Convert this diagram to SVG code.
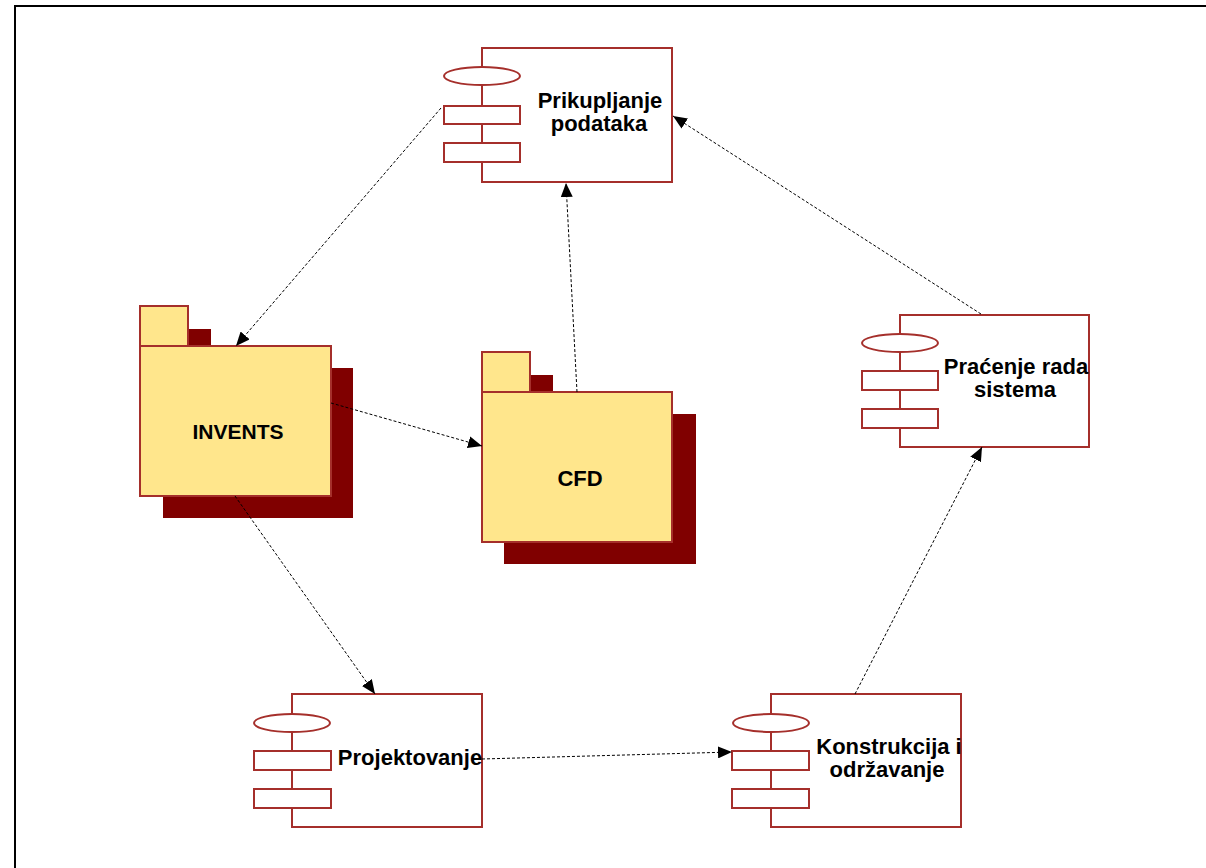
<svg xmlns="http://www.w3.org/2000/svg" width="1206" height="868" viewBox="0 0 1206 868">
<defs>
<style>
.frame{fill:none;stroke:#000;stroke-width:2}
.comp{fill:#fff;stroke:#A52F2B;stroke-width:2}
.pkg{fill:#FFE68C;stroke:#A52F2B;stroke-width:2}
.shadow{fill:#800000;stroke:none}
.lbl{font-family:"Liberation Sans",Arial,sans-serif;font-weight:bold;font-size:22px;fill:#000;text-anchor:middle}
.pl{font-size:21px}
.conn{fill:none;stroke:#000;stroke-width:1;stroke-dasharray:3,2}
</style>
<marker id="arr" markerUnits="userSpaceOnUse" markerWidth="14" markerHeight="12" viewBox="0 0 14 12" refX="14" refY="6" orient="auto">
<path d="M0,0 L14,6 L0,12 Z" fill="#000"/>
</marker>
</defs>
<rect width="1206" height="868" fill="#fff"/>
<path class="frame" d="M15,868 V6 H1206"/>

<g id="invents">
<rect class="shadow" x="163" y="368" width="190" height="150"/>
<rect class="shadow" x="163" y="329" width="48" height="40"/>
<rect class="pkg" x="140" y="306" width="48" height="40"/>
<rect class="pkg" x="140" y="346" width="191" height="150"/>
<text class="lbl pl" x="238" y="439">INVENTS</text>
</g>

<g id="cfd">
<rect class="shadow" x="504" y="414" width="192" height="150"/>
<rect class="shadow" x="504" y="375" width="49" height="40"/>
<rect class="pkg" x="482" y="352" width="48" height="40"/>
<rect class="pkg" x="482" y="392" width="190" height="150"/>
<text class="lbl" x="580" y="486">CFD</text>
</g>

<g id="prikupljanje">
<rect class="comp" x="482" y="48" width="190" height="134"/>
<ellipse class="comp" cx="482" cy="76" rx="38" ry="9"/>
<rect class="comp" x="444" y="106" width="76" height="18"/>
<rect class="comp" x="444" y="143" width="76" height="19"/>
<text class="lbl" x="600" y="108">Prikupljanje</text>
<text class="lbl" x="599" y="131">podataka</text>
</g>

<g id="pracenje">
<rect class="comp" x="900" y="315" width="189" height="132"/>
<ellipse class="comp" cx="900" cy="343" rx="38" ry="9"/>
<rect class="comp" x="862" y="371" width="76" height="19"/>
<rect class="comp" x="862" y="409" width="76" height="19"/>
<text class="lbl" x="1016" y="374">Praćenje rada</text>
<text class="lbl" x="1015" y="397">sistema</text>
</g>

<g id="projektovanje">
<rect class="comp" x="292" y="694" width="190" height="133"/>
<ellipse class="comp" cx="292" cy="723" rx="38" ry="9"/>
<rect class="comp" x="254" y="751" width="77" height="19"/>
<rect class="comp" x="254" y="789" width="77" height="19"/>
<text class="lbl" x="410" y="765">Projektovanje</text>
</g>

<g id="konstrukcija">
<rect class="comp" x="771" y="694" width="190" height="133"/>
<ellipse class="comp" cx="771" cy="723" rx="38" ry="9"/>
<rect class="comp" x="732" y="751" width="77" height="19"/>
<rect class="comp" x="732" y="789" width="77" height="19"/>
<text class="lbl" x="889" y="754">Konstrukcija i</text>
<text class="lbl" x="887" y="777">održavanje</text>
</g>

<g id="connectors">
<line class="conn" x1="441" y1="108" x2="236" y2="346" marker-end="url(#arr)"/>
<line class="conn" x1="577" y1="392" x2="566" y2="183" marker-end="url(#arr)"/>
<line class="conn" x1="981" y1="314" x2="673" y2="116" marker-end="url(#arr)"/>
<line class="conn" x1="331" y1="403" x2="482" y2="446" marker-end="url(#arr)"/>
<line class="conn" x1="235" y1="496" x2="375" y2="694" marker-end="url(#arr)"/>
<line class="conn" x1="482" y1="759" x2="732" y2="752" marker-end="url(#arr)"/>
<line class="conn" x1="855" y1="694" x2="982" y2="447" marker-end="url(#arr)"/>
</g>
</svg>
